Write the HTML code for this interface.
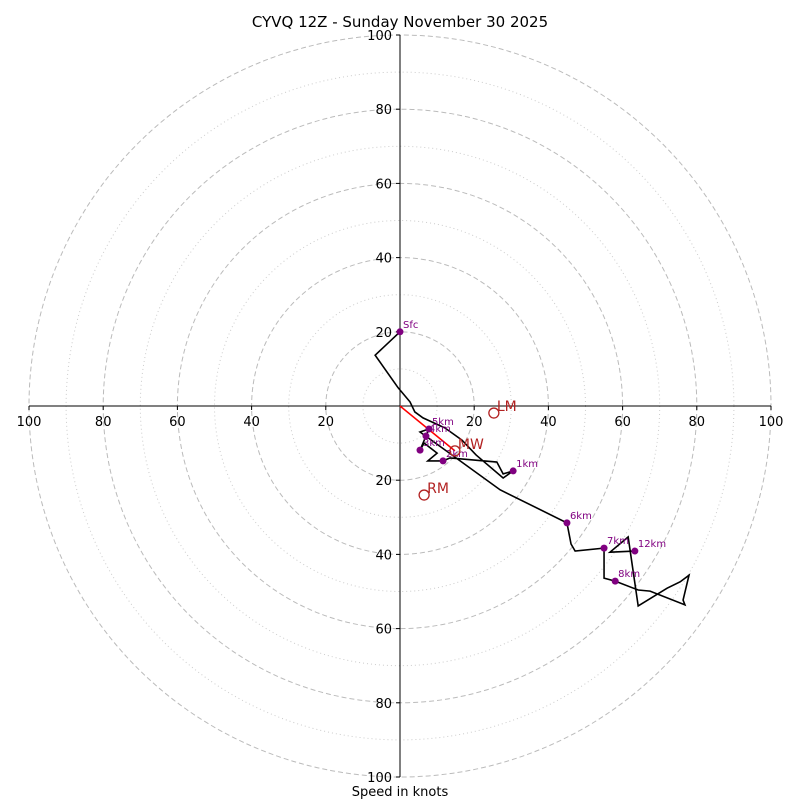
<!DOCTYPE html>
<html><head><meta charset="utf-8">
<style>
html,body{margin:0;padding:0;background:#fff;}
svg{display:block;font-family:"DejaVu Sans","Liberation Sans",sans-serif;}
</style></head>
<body>
<svg id="chart" width="800" height="800" viewBox="0 0 800 800">
<text x="400" y="27" text-anchor="middle" font-size="15">CYVQ 12Z - Sunday November 30 2025</text>
<text x="400" y="796" text-anchor="middle" font-size="13">Speed in knots</text>
<g id="grid"></g>
<g id="axes"></g>
<g id="series"></g>
</svg>
<script>
const ringValues=[10,20,30,40,50,60,70,80,90,100];
const tickLabels=[20,40,60,80,100];
const profileU=[0,-6.7,-0.5,2.7,4.0,6.2,12.1,16.7,20.5,27.8,30.5,27.8,26.1,13.5,11.6,7.5,10.0,6.5,5.4,7.0,7.8,5.4,12.9,27.0,45,46.1,47.2,55,55,58,64.2,67.4,76.8,76.3,77.9,75.5,72,64.2,61.5,56.6,63.3];
const profileV=[20,13.7,4.9,1.1,-1.6,-3.2,-5.9,-9.2,-13.2,-19.4,-17.5,-18.3,-15.1,-14.0,-14.8,-14.8,-12.7,-10.0,-11.9,-8.1,-6.2,-7.0,-12.4,-22.6,-31.5,-37.2,-39.1,-38.3,-46.4,-47.2,-49.6,-49.9,-53.6,-52.3,-45.6,-47.4,-49.1,-53.9,-35.3,-39.4,-39.1];
const markerLabels=["Sfc","1km","2km","3km","4km","5km","6km","7km","8km","12km"];
const markerIndex=[0,10,14,18,19,20,24,27,29,40];
const stormNames=["LM","MW","RM"];
const stormU=[25.3,14.8,6.5];
const stormV=[-1.9,-12.1,-24];

const NS="http://www.w3.org/2000/svg";
const cx=400,cy=406,R=371,maxV=100;
const sx=u=>cx+u*R/maxV, sy=v=>cy-v*R/maxV, sr=r=>r*R/maxV;
function mk(tag,parent,attrs){const e=document.createElementNS(NS,tag);for(const k in attrs)e.setAttribute(k,attrs[k]);parent.appendChild(e);return e;}
const grid=document.getElementById('grid'),axes=document.getElementById('axes'),ser=document.getElementById('series');
ringValues.forEach(r=>{
  const major=r%20===0;
  const c=mk('circle',grid,{cx:cx,cy:cy,r:sr(r),fill:'none',stroke:major?'#bbb':'#ccc','stroke-width':1,'stroke-dasharray':major?'5,3':'1,3'});
  
  
});
const ax1=mk('line',axes,{x1:sx(-100),y1:cy,x2:sx(100),y2:cy,stroke:'#000','stroke-width':1});


const ax2=mk('line',axes,{x1:cx,y1:sy(100),x2:cx,y2:sy(-100),stroke:'#000','stroke-width':1});


tickLabels.forEach(t=>{
  [t,-t].forEach(s=>{
    const tk=mk('line',axes,{x1:sx(s),y1:cy,x2:sx(s),y2:cy+4,stroke:'#000'});
    
    
    const tx=mk('text',axes,{x:sx(s),y:cy+20,'text-anchor':'middle','font-size':13});
    tx.textContent=t;
    
    
    const tk2=mk('line',axes,{x1:cx-4,y1:sy(s),x2:cx,y2:sy(s),stroke:'#000'});
    
    
    const ty=mk('text',axes,{x:cx-8,y:sy(s)+5,'text-anchor':'end','font-size':13});
    ty.textContent=t;
    
    
  });
});
const red=mk('line',ser,{x1:sx(0),y1:sy(0),x2:sx(stormU[1]),y2:sy(stormV[1]),stroke:'red','stroke-width':1.5});


const pts=profileU.map((u,i)=>sx(u)+','+sy(profileV[i])).join(' ');
const pl=mk('polyline',ser,{points:pts,fill:'none',stroke:'#000','stroke-width':1.6,'stroke-linejoin':'miter'});


markerIndex.forEach((idx,i)=>{
  const x=sx(profileU[idx]),y=sy(profileV[idx]);
  const c=mk('circle',ser,{cx:x,cy:y,r:3.5,fill:'purple'});
  
  
  const t=mk('text',ser,{x:x+3,y:y-4,'font-size':10,fill:'purple'});
  t.textContent=markerLabels[i];
  
  
});
stormNames.forEach((n,i)=>{
  const x=sx(stormU[i]),y=sy(stormV[i]);
  const c=mk('circle',ser,{cx:x,cy:y,r:5,fill:'none',stroke:'#b22222','stroke-width':1.3});
  
  
  const t=mk('text',ser,{x:x+3,y:y-2,'font-size':14,fill:'#b22222'});
  t.textContent=n;
  
  
});
</script>
</body></html>
